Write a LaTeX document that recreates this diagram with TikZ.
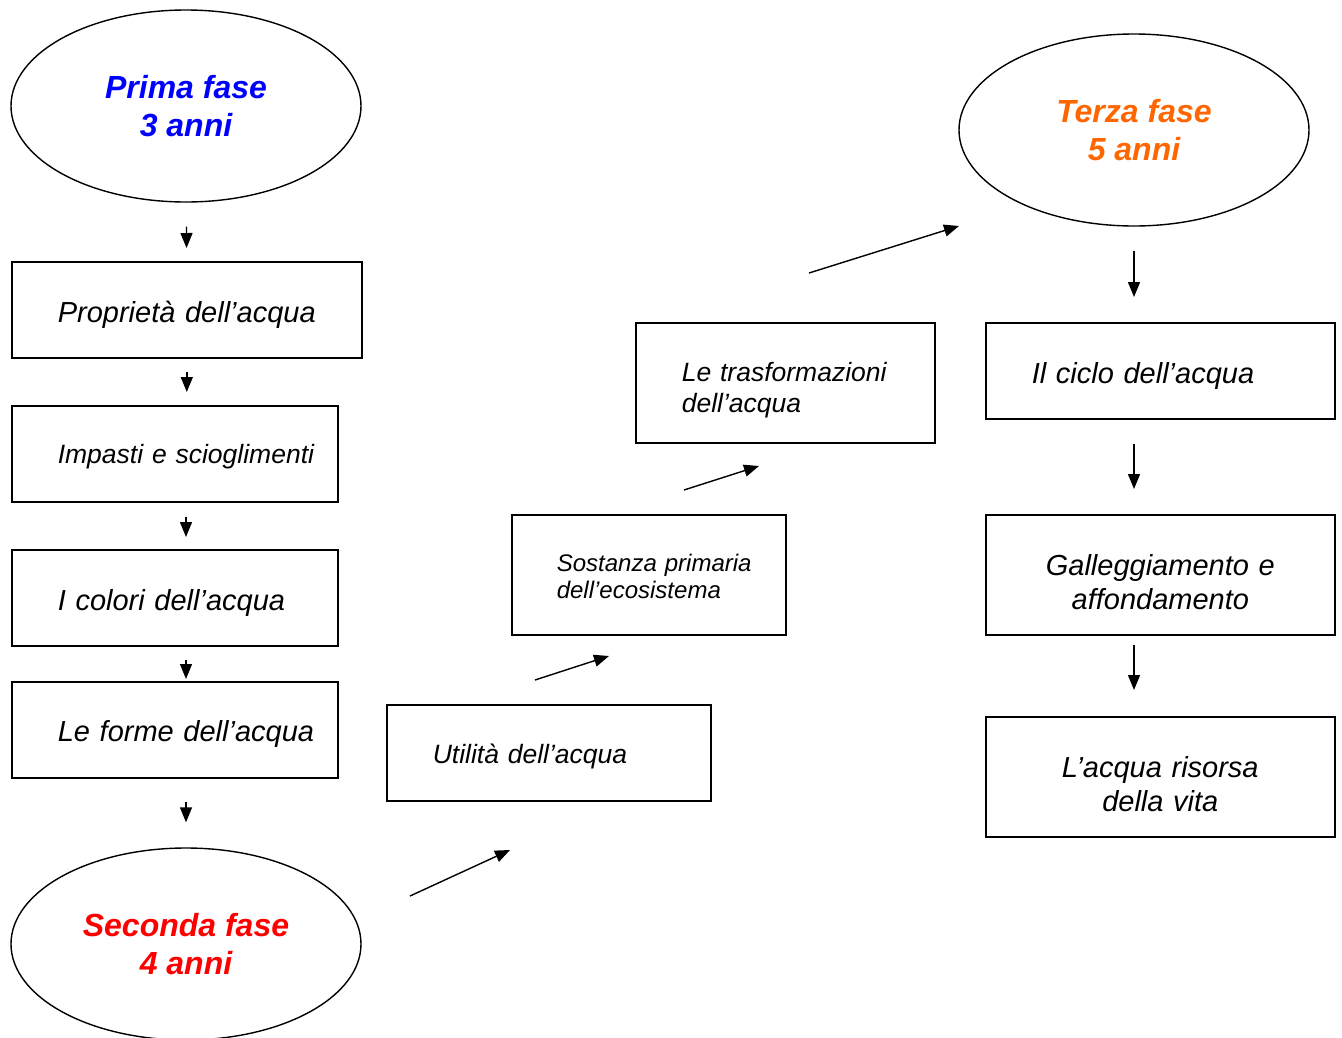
\documentclass[tikz,border=0pt]{standalone}
\usepackage{fontspec}
\setmainfont{Liberation Sans}
\usetikzlibrary{shapes.geometric,arrows.meta}
\definecolor{phaseblue}{RGB}{0,0,255}
\definecolor{phasered}{RGB}{255,0,0}
\definecolor{phaseorange}{RGB}{255,102,0}
\tikzstyle{phase_ellipse}=[ellipse, draw=black, line width=1.4pt, minimum width=350pt, minimum height=192pt, inner sep=0pt, align=center, font=\fontsize{32}{38}\selectfont\bfseries\itshape]
\tikzstyle{topic_block}=[rectangle, draw=black, line width=1.6pt, anchor=north west, inner xsep=0pt, inner ysep=0pt, minimum height=96pt, text height=31pt, font=\fontsize{29}{34}\selectfont\itshape]
\tikzstyle{left_text}=[align=left, execute at begin node={\leftskip=46pt}]
\tikzstyle{small_text}=[font=\fontsize{26.5}{31}\selectfont\itshape]
\tikzstyle{arrow}=[-{Triangle[length=15pt,width=12pt]}, line width=1.4pt]

\begin{document}
\begin{tikzpicture}[x=1pt,y=-1pt]
\useasboundingbox (0,0) rectangle (1342,1037);

% fasi
\node[phase_ellipse, text=phaseblue] (prima) at (186,106) {Prima fase\\3 anni};
\node[phase_ellipse, text=phasered] (seconda) at (186,944) {Seconda fase\\4 anni};
\node[phase_ellipse, text=phaseorange] (terza) at (1134,130) {Terza fase\\5 anni};

% prima colonna
\node[topic_block, left_text, text width=350pt] (proprieta) at (11,261) {Proprietà dell’acqua};
\node[topic_block, left_text, small_text, text height=25pt, text width=326pt] (impasti) at (11,405) {Impasti e scioglimenti};
\node[topic_block, left_text, text width=326pt] (colori) at (11,549) {I colori dell’acqua};
\node[topic_block, left_text, text height=29pt, text width=326pt] (forme) at (11,681) {Le forme dell’acqua};

\draw[arrow, shorten <=24pt, shorten >=13pt] (prima) -- (proprieta);
\draw[arrow, shorten <=13pt, shorten >=13pt] (proprieta.south) -- (proprieta.south |- impasti.north);
\draw[arrow, shorten <=14pt, shorten >=12pt] (impasti.south -| prima) -- (colori.north -| prima);
\draw[arrow, shorten <=13pt, shorten >=2pt] (colori.south -| prima) -- (forme.north -| prima);
\draw[arrow, shorten <=23pt, shorten >=25pt] (forme.south -| prima) -- (seconda.north);

% seconda fase, a scala
\node[topic_block, left_text, small_text, text height=27pt, text width=324pt] (utilita) at (386,704) {Utilità dell’acqua};
\node[topic_block, align=left, execute at begin node={\leftskip=45pt}, font=\fontsize{24}{27}\selectfont\itshape, text height=21.5pt, text width=274pt, minimum height=120pt] (sostanza) at (511,514) {Sostanza primaria\\dell’ecosistema};
\node[topic_block, left_text, small_text, text height=33pt, text width=299pt, minimum height=120pt] (trasf) at (635,322) {Le trasformazioni\\dell’acqua};

\coordinate (step1_a) at (410,896);
\coordinate (step1_b) at (510,850);
\coordinate (step2_a) at (535,680);
\coordinate (step2_b) at (609,656);
\coordinate (step3_a) at (684,490);
\coordinate (step3_b) at (759,466);
\coordinate (step4_a) at (809,273);
\coordinate (step4_b) at (959,226);
\draw[arrow] (step1_a) -- (step1_b);
\draw[arrow] (step2_a) -- (step2_b);
\draw[arrow] (step3_a) -- (step3_b);
\draw[arrow] (step4_a) -- (step4_b);

% terza colonna
\node[topic_block, left_text, text width=349pt] (ciclo) at (985,322) {Il ciclo dell’acqua};
\node[topic_block, align=center, text height=35pt, text width=349pt, minimum height=120pt] (galleg) at (985,514) {Galleggiamento e\\affondamento};
\node[topic_block, align=center, text height=35pt, text width=349pt, minimum height=120pt] (risorsa) at (985,716) {L’acqua risorsa\\della vita};

\draw[arrow, shorten <=24pt, shorten >=25pt] (terza.south) -- (terza.south |- ciclo.north);
\draw[arrow, shorten <=24pt, shorten >=25pt] (ciclo.south -| terza) -- (galleg.north -| terza);
\draw[arrow, shorten <=9pt, shorten >=26pt] (galleg.south -| terza) -- (risorsa.north -| terza);
\end{tikzpicture}
\end{document}
